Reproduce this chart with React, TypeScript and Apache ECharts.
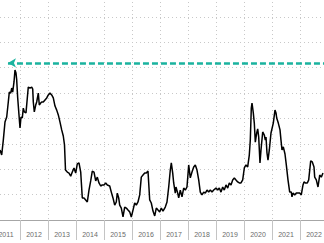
import React, { useEffect, useRef } from "react";
import * as echarts from "echarts";

// Decimal years of each observation
const years = [
  2011.286, 2011.346, 2011.404, 2011.464, 2011.525, 2011.582, 2011.618, 2011.668, 2011.704, 2011.739,
  2011.786, 2011.821, 2011.857, 2011.882, 2011.918, 2011.964, 2012.0, 2012.036, 2012.082, 2012.118,
  2012.154, 2012.214, 2012.261, 2012.296, 2012.357, 2012.418, 2012.454, 2012.475, 2012.511, 2012.561,
  2012.596, 2012.654, 2012.689, 2012.739, 2012.775, 2012.832, 2012.893, 2012.954, 2013.011, 2013.071,
  2013.132, 2013.189, 2013.25, 2013.311, 2013.368, 2013.429, 2013.489, 2013.546, 2013.589, 2013.625,
  2013.689, 2013.75, 2013.811, 2013.868, 2013.929, 2013.989, 2014.046, 2014.107, 2014.168, 2014.225,
  2014.286, 2014.346, 2014.404, 2014.464, 2014.525, 2014.582, 2014.643, 2014.704, 2014.761, 2014.821,
  2014.882, 2014.939, 2015.0, 2015.061, 2015.118, 2015.204, 2015.261, 2015.321, 2015.382, 2015.439,
  2015.475, 2015.525, 2015.561, 2015.618, 2015.679, 2015.739, 2015.796, 2015.857, 2015.918, 2015.975,
  2016.036, 2016.096, 2016.154, 2016.214, 2016.275, 2016.332, 2016.393, 2016.454, 2016.511, 2016.571,
  2016.632, 2016.689, 2016.75, 2016.811, 2016.868, 2016.929, 2016.989, 2017.046, 2017.107, 2017.189,
  2017.25, 2017.311, 2017.368, 2017.404, 2017.454, 2017.489, 2017.546, 2017.571, 2017.632, 2017.668,
  2017.725, 2017.786, 2017.846, 2017.904, 2017.964, 2018.025, 2018.082, 2018.143, 2018.204, 2018.261,
  2018.321, 2018.382, 2018.439, 2018.5, 2018.561, 2018.618, 2018.679, 2018.739, 2018.796, 2018.857,
  2018.918, 2019.0, 2019.061, 2019.118, 2019.179, 2019.239, 2019.296, 2019.357, 2019.418, 2019.475,
  2019.536, 2019.596, 2019.654, 2019.714, 2019.775, 2019.832, 2019.893, 2019.954, 2020.011, 2020.071,
  2020.132, 2020.189, 2020.225, 2020.261, 2020.286, 2020.332, 2020.368, 2020.404, 2020.454, 2020.489,
  2020.525, 2020.571, 2020.607, 2020.668, 2020.725, 2020.761, 2020.786, 2020.821, 2020.857, 2020.904,
  2020.964, 2021.046, 2021.107, 2021.143, 2021.168, 2021.225, 2021.286, 2021.321, 2021.357, 2021.404,
  2021.464, 2021.511, 2021.571, 2021.632, 2021.689, 2021.714, 2021.75, 2021.811, 2021.868, 2021.929,
  2021.989, 2022.046, 2022.107, 2022.143, 2022.189, 2022.261, 2022.311, 2022.382, 2022.439, 2022.5,
  2022.525, 2022.582, 2022.643, 2022.704, 2022.761, 2022.821,
];

// Series values (axis units hidden in the reference)
const values = [
  27.6, 25.6, 31.5, 38.6, 40.6, 46.5, 50.4, 50.0, 52.0, 50.4,
  54.4, 59.1, 57.9, 55.2, 48.1, 41.4, 36.3, 40.6, 40.2, 44.1,
  42.6, 42.2, 48.1, 52.4, 52.0, 52.4, 51.6, 46.5, 42.6, 45.3,
  46.5, 50.0, 45.3, 46.1, 46.5, 46.5, 47.3, 48.1, 49.3, 50.0,
  49.3, 48.1, 44.9, 43.3, 41.4, 38.6, 35.5, 33.1, 29.6, 19.7,
  18.9, 18.5, 17.3, 18.9, 20.5, 18.5, 22.1, 22.5, 18.9, 8.7,
  8.7, 7.9, 7.1, 11.8, 15.4, 19.3, 18.9, 15.4, 16.9, 14.6,
  13.4, 13.8, 13.8, 14.6, 13.8, 13.4, 11.0, 8.7, 5.9, 7.1,
  10.6, 8.7, 5.9, 4.7, 1.2, 5.1, 4.7, 3.9, 3.2, 1.2,
  3.9, 6.7, 5.9, 7.1, 9.9, 16.9, 17.7, 18.5, 18.5, 19.3,
  7.9, 6.7, 3.5, 1.6, 4.7, 3.9, 3.2, 4.7, 3.5, 5.1,
  7.1, 13.0, 19.7, 22.5, 18.5, 14.6, 10.6, 13.0, 10.6, 8.7,
  11.8, 9.1, 12.6, 11.8, 13.0, 21.7, 16.6, 18.9, 20.9, 21.7,
  19.7, 15.8, 11.0, 9.9, 11.0, 10.6, 11.8, 11.0, 11.8, 11.0,
  11.8, 12.6, 11.8, 12.6, 11.0, 13.0, 11.8, 13.8, 12.6, 14.6,
  13.8, 15.8, 16.6, 15.8, 15.0, 14.6, 14.6, 15.8, 20.5, 21.7,
  20.9, 25.6, 31.5, 44.1, 46.1, 42.2, 38.2, 30.7, 34.3, 35.9,
  32.7, 22.5, 27.6, 34.7, 33.5, 31.5, 32.7, 26.4, 23.6, 27.6,
  34.3, 38.2, 43.3, 42.2, 40.2, 38.2, 35.5, 31.5, 27.6, 28.8,
  26.0, 21.7, 15.8, 11.0, 11.0, 9.1, 10.6, 9.9, 10.6, 10.6,
  10.6, 9.9, 13.8, 15.0, 14.6, 14.6, 15.8, 23.3, 22.9, 20.9,
  16.9, 15.8, 13.0, 17.7, 16.9, 18.5,
];

// Reference level (dashed arrow) and where its arrowhead sits
const arrowLevel = 61.9;
const arrowStart = 2011.57;
const arrowEnd = 2023;

const xMin = 2011;
const xMax = 2023;

export default function App() {
  const ref = useRef<HTMLDivElement>(null);

  useEffect(() => {
    if (!ref.current) return;
    const chart = echarts.init(ref.current, null, { renderer: "svg" });
    const data = years.map((y, i) => [y, values[i]]);
    chart.setOption({
      animation: false,
      backgroundColor: "#ffffff",
      grid: { left: 0, right: 0, top: 0, bottom: 23, containLabel: false },
      xAxis: {
        type: "value",
        min: xMin,
        max: xMax,
        interval: 1,
        offset: 4,
        axisLine: { show: true, lineStyle: { color: "#a6a6a6", width: 1 } },
        axisTick: { show: true, length: 20, lineStyle: { color: "#c4c4c4", width: 1 } },
        axisLabel: {
          show: true,
          showMinLabel: true,
          showMaxLabel: false,
          formatter: (v: number) => String(Math.round(v)),
          color: "#6b6b6b",
          fontSize: 7,
          fontFamily: "Liberation Sans, Arial, sans-serif",
          margin: 7,
          align: "center",
          padding: [0, 0, 0, 28],
        },
        splitLine: { show: true, lineStyle: { color: "#c8c8c8", type: [1, 3], width: 1 } },
      },
      yAxis: {
        type: "value",
        min: 0,
        max: 90.64,
        interval: 10,
        axisLine: { show: false },
        axisTick: { show: false },
        axisLabel: { show: false },
        splitLine: { show: true, lineStyle: { color: "#c8c8c8", type: [1, 3], width: 1 } },
      },
      series: [
        {
          type: "line",
          data,
          showSymbol: false,
          symbol: "none",
          lineStyle: { color: "#000000", width: 1.5 },
          silent: true,
          markLine: {
            silent: true,
            symbol: ["arrow", "none"],
            symbolSize: [7, 8],
            label: { show: false },
            lineStyle: { color: "#1ab39f", width: 2.5, type: [6, 3] },
            data: [
              [
                { coord: [arrowStart, arrowLevel] },
                { coord: [arrowEnd, arrowLevel] },
              ],
            ],
          },
        },
      ],
    });
    return () => chart.dispose();
  }, []);

  return (
    <div
      ref={ref}
      style={{ position: "fixed", left: -8, top: -10, width: 336, height: 253 }}
    />
  );
}
